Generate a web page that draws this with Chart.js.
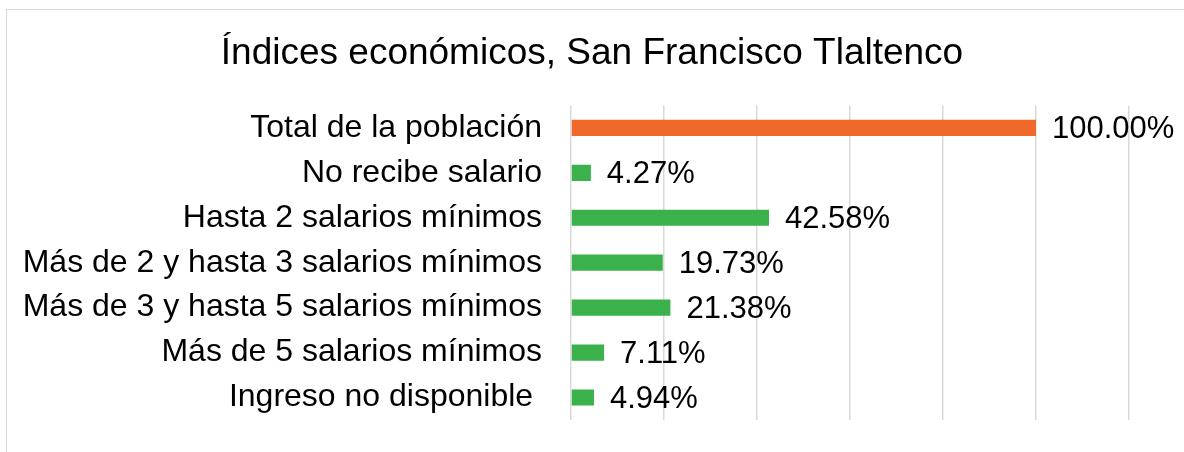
<!DOCTYPE html>
<html>
<head>
<meta charset="utf-8">
<script src="https://cdn.jsdelivr.net/npm/chart.js@4"></script>
<style>
  html, body { margin: 0; padding: 0; background: #fff; }
  #wrap { position: absolute; left: 0; top: 0; width: 1184px; height: 452px; overflow: hidden; }
  #frame { position: absolute; left: 6px; top: 9px; width: 1180px; height: 460px; border: 1px solid #d9d9d9; box-sizing: border-box; }
  canvas { position: absolute; left: 0; top: 0; }
</style>
</head>
<body>
<div id="wrap">
  <div id="frame"></div>
  <canvas id="chart" width="1184" height="452"></canvas>
</div>
<script>
// Categories and values
const categories = [
  "Total de la población",
  "No recibe salario",
  "Hasta 2 salarios mínimos",
  "Más de 2 y hasta 3 salarios mínimos",
  "Más de 3 y hasta 5 salarios mínimos",
  "Más de 5 salarios mínimos",
  "Ingreso no disponible "
];
const percentages = [100.00, 4.27, 42.58, 19.73, 21.38, 7.11, 4.94];
const barColors = ["#F0692A", "#3AB14A", "#3AB14A", "#3AB14A", "#3AB14A", "#3AB14A", "#3AB14A"];
const chartTitle = "Índices económicos, San Francisco Tlaltenco";

const FONT = "'Liberation Sans', Arial, sans-serif";

// draw the value labels to the right of every bar
const valueLabels = {
  id: "valueLabels",
  afterDatasetsDraw(chart) {
    const ctx = chart.ctx;
    const meta = chart.getDatasetMeta(0);
    ctx.save();
    ctx.font = "31px " + FONT;
    ctx.fillStyle = "#000";
    ctx.textAlign = "left";
    ctx.textBaseline = "middle";
    meta.data.forEach((bar, i) => {
      ctx.fillText(percentages[i].toFixed(2) + "%", bar.x + 16, bar.y + 2);
    });
    ctx.restore();
  }
};

new Chart(document.getElementById("chart"), {
  type: "bar",
  data: {
    labels: categories,
    datasets: [{
      data: percentages,
      backgroundColor: barColors,
      barPercentage: 0.36,
      categoryPercentage: 1.0
    }]
  },
  options: {
    indexAxis: "y",
    responsive: false,
    animation: false,
    layout: { padding: { left: 0, right: 0, top: 0, bottom: 32 } },
    plugins: {
      legend: { display: false },
      tooltip: { enabled: false },
      title: {
        display: true,
        text: chartTitle,
        color: "#000",
        font: { family: FONT, size: 37, weight: "normal" },
        padding: { top: 32, bottom: 29 }
      }
    },
    scales: {
      x: {
        min: 0,
        max: 120,
        afterFit(scale) { scale.height = 0; scale.paddingLeft = 0; scale.paddingRight = 0; },
        ticks: { display: false, stepSize: 20 },
        grid: { color: "#d9d9d9", lineWidth: 1.5, drawTicks: false },
        border: { display: false }
      },
      y: {
        afterFit(scale) { scale.width = 571; scale.paddingTop = 0; scale.paddingBottom = 0; },
        grid: { display: false },
        border: { display: false },
        ticks: {
          color: "#000",
          padding: 21,
          font: { family: FONT, size: 32 }
        }
      },
      // empty right-hand axis, only keeps room for the value labels
      yRight: {
        position: "right",
        afterFit(scale) { scale.width = 55; scale.paddingTop = 0; scale.paddingBottom = 0; },
        grid: { display: false },
        border: { display: false },
        ticks: { display: false }
      }
    }
  },
  plugins: [valueLabels]
});
</script>
</body>
</html>
